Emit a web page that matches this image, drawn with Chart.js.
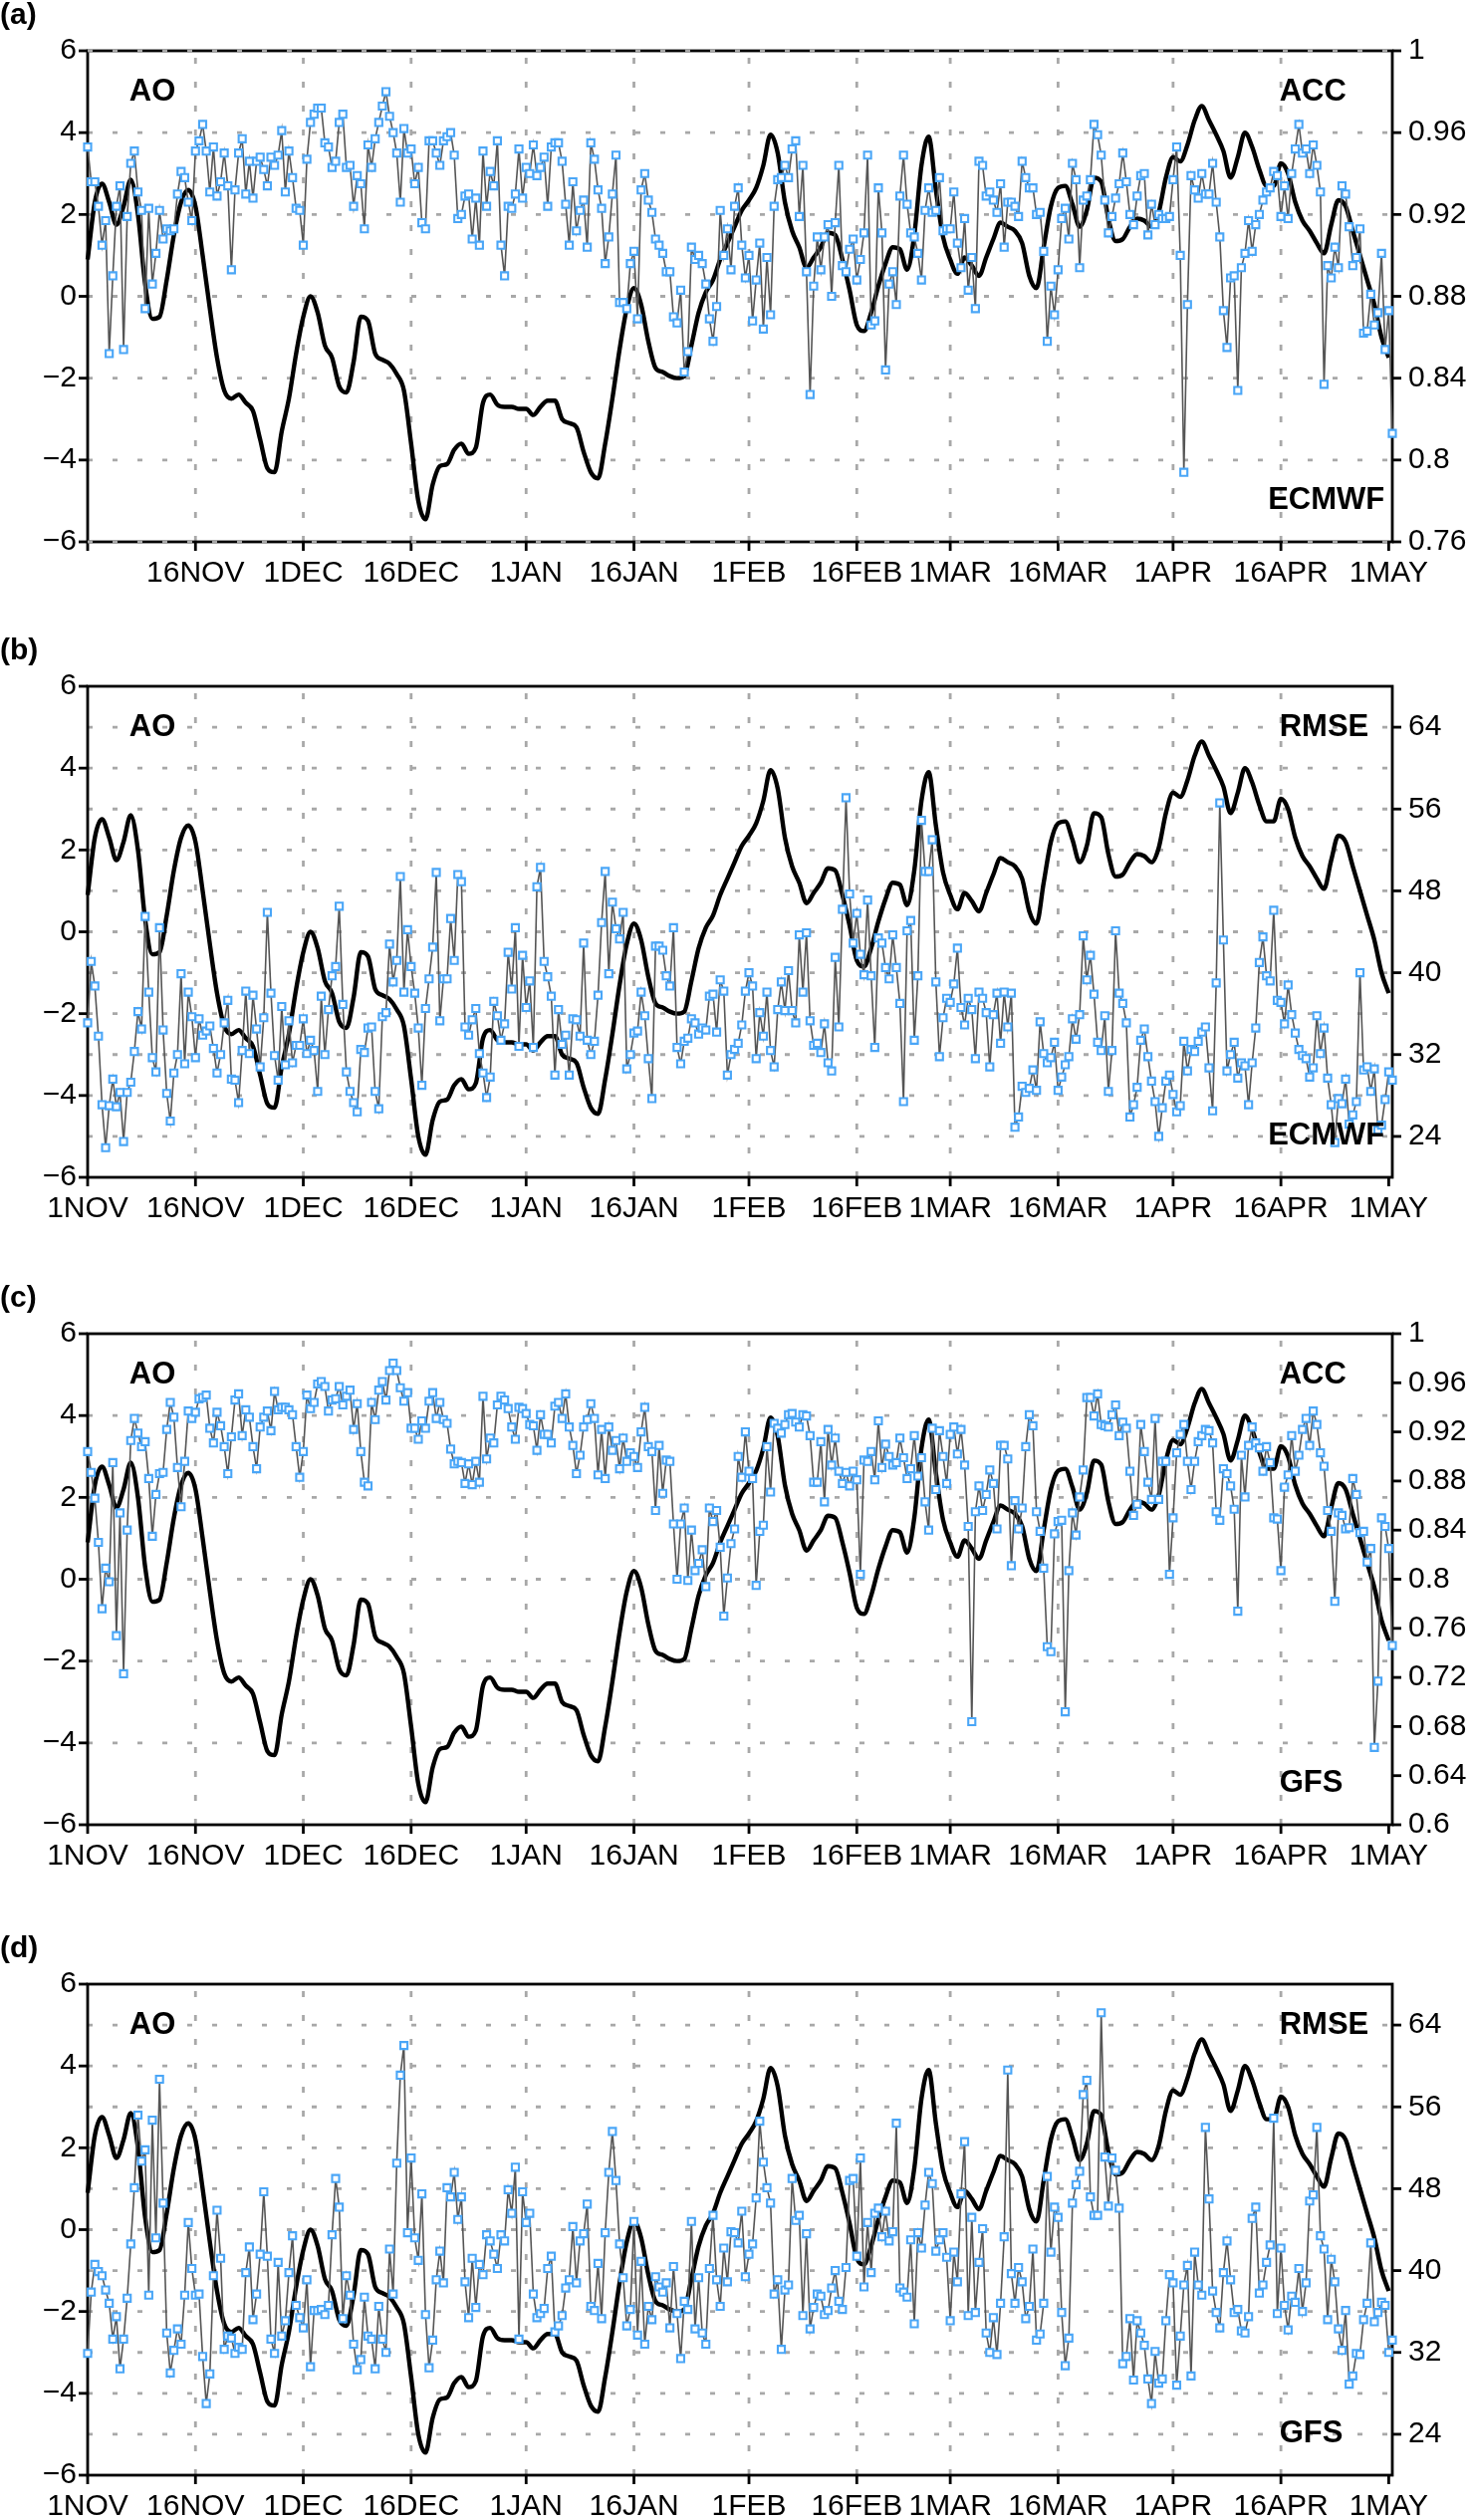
<!DOCTYPE html>
<html>
<head>
<meta charset="utf-8">
<script src="https://cdn.jsdelivr.net/npm/chart.js@4.4.1/dist/chart.umd.min.js"></script>
<style>
html, body { margin: 0; padding: 0; background: #fff; width: 1477px; height: 2530px; overflow: hidden; }
.panel { position: absolute; left: 0; width: 1477px; height: 600px; }
</style>
</head>
<body>
<div class="panel" style="top:0px"><canvas id="panelA" width="1477" height="600"></canvas></div>
<div class="panel" style="top:638px"><canvas id="panelB" width="1477" height="600"></canvas></div>
<div class="panel" style="top:1288px"><canvas id="panelC" width="1477" height="600"></canvas></div>
<div class="panel" style="top:1941px"><canvas id="panelD" width="1477" height="600"></canvas></div>
<script>
// x axis: days since 1 NOV
const dayTicks = [0, 15, 30, 45, 61, 76, 92, 107, 120, 135, 151, 166, 181]
const dayLabels = ['1NOV', '16NOV', '1DEC', '16DEC', '1JAN', '16JAN', '1FEB', '16FEB', '1MAR', '16MAR', '1APR', '16APR', '1MAY']

const aoTicks = [-6, -4, -2, 0, 2, 4, 6]
const accTicksEcmwf = [0.76, 0.8, 0.84, 0.88, 0.92, 0.96, 1]
const accTicksGfs = [0.6, 0.64, 0.68, 0.72, 0.76, 0.8, 0.84, 0.88, 0.92, 0.96, 1]
const rmseTicks = [24, 32, 40, 48, 56, 64]

// daily AO index (one value per day)
const aoIndex = [
  0.9, 2.3, 2.75, 2.3, 1.75, 2.2, 2.85, 2.0, 0.3, -0.55,
  -0.5, 0.4, 1.5, 2.3, 2.6, 2.2, 1.0, -0.3, -1.5, -2.3,
  -2.5, -2.4, -2.6, -2.8, -3.5, -4.2, -4.3, -3.3, -2.5, -1.4,
  -0.5, 0.0, -0.4, -1.2, -1.5, -2.2, -2.35, -1.6, -0.5, -0.6,
  -1.4, -1.55, -1.65, -1.9, -2.3, -3.6, -5.0, -5.45, -4.6, -4.15,
  -4.1, -3.75, -3.6, -3.85, -3.7, -2.6, -2.4, -2.65, -2.7, -2.7,
  -2.75, -2.75, -2.9, -2.7, -2.55, -2.55, -3.0, -3.1, -3.2, -3.8,
  -4.3, -4.45, -3.6, -2.5, -1.3, -0.3, 0.2, -0.2, -1.1, -1.75,
  -1.85, -1.95, -2.0, -1.95, -1.2, -0.4, 0.1, 0.4, 0.9, 1.3,
  1.7, 2.1, 2.35, 2.65, 3.2, 3.95, 3.5, 2.3, 1.6, 1.2,
  0.7, 0.95, 1.2, 1.55, 1.5, 0.9, 0.15, -0.7, -0.85, -0.4,
  0.25, 0.8, 1.2, 1.15, 0.65, 1.5, 3.2, 3.9, 2.6, 1.45,
  0.9, 0.55, 0.95, 0.75, 0.5, 0.95, 1.4, 1.8, 1.7, 1.6,
  1.3, 0.5, 0.2, 1.2, 2.2, 2.65, 2.7, 2.25, 1.7, 2.1,
  2.9, 2.8, 1.9, 1.35, 1.4, 1.7, 1.9, 1.85, 1.7, 2.05,
  2.9, 3.4, 3.3, 3.7, 4.3, 4.65, 4.3, 3.95, 3.55, 2.9,
  3.4, 4.0, 3.65, 3.1, 2.7, 2.7, 3.25, 3.0, 2.3, 1.85,
  1.6, 1.3, 1.05, 1.75, 2.35, 2.2, 1.6, 1.0, 0.4, -0.2,
  -1.0, -1.5
]

// skill scores, two per day (00 and 12 UTC)
const accEcmwf = [
  0.953, 0.936, 0.936, 0.924, 0.905, 0.917, 0.852, 0.890, 0.924, 0.934,
  0.854, 0.919, 0.945, 0.951, 0.931, 0.922, 0.874, 0.923, 0.886, 0.901,
  0.922, 0.908, 0.913, 0.912, 0.913, 0.930, 0.941, 0.938, 0.926, 0.917,
  0.951, 0.956, 0.964, 0.951, 0.931, 0.953, 0.929, 0.936, 0.950, 0.934,
  0.893, 0.932, 0.950, 0.957, 0.930, 0.946, 0.928, 0.946, 0.948, 0.942,
  0.934, 0.948, 0.944, 0.949, 0.961, 0.931, 0.951, 0.938, 0.923, 0.922,
  0.905, 0.947, 0.965, 0.969, 0.972, 0.972, 0.955, 0.953, 0.943, 0.946,
  0.965, 0.969, 0.943, 0.944, 0.924, 0.939, 0.935, 0.913, 0.954, 0.943,
  0.957, 0.965, 0.973, 0.980, 0.968, 0.960, 0.950, 0.926, 0.962, 0.950,
  0.952, 0.935, 0.943, 0.916, 0.913, 0.956, 0.956, 0.950, 0.944, 0.956,
  0.958, 0.960, 0.949, 0.918, 0.920, 0.929, 0.930, 0.908, 0.928, 0.905,
  0.951, 0.924, 0.941, 0.934, 0.956, 0.905, 0.890, 0.924, 0.923, 0.930,
  0.952, 0.928, 0.943, 0.940, 0.954, 0.939, 0.943, 0.948, 0.924, 0.953,
  0.955, 0.955, 0.946, 0.925, 0.905, 0.936, 0.912, 0.922, 0.927, 0.904,
  0.955, 0.947, 0.932, 0.923, 0.896, 0.909, 0.930, 0.949, 0.877, 0.877,
  0.874, 0.896, 0.902, 0.869, 0.932, 0.940, 0.927, 0.921, 0.908, 0.905,
  0.901, 0.892, 0.892, 0.870, 0.867, 0.883, 0.843, 0.853, 0.904, 0.898,
  0.900, 0.896, 0.886, 0.869, 0.858, 0.875, 0.922, 0.900, 0.913, 0.893,
  0.924, 0.933, 0.905, 0.889, 0.900, 0.868, 0.888,
  0.906, 0.864, 0.899, 0.871, 0.924, 0.937, 0.938, 0.944, 0.938, 0.952,
  0.956, 0.919, 0.944, 0.892, 0.832, 0.885, 0.909, 0.893, 0.909, 0.915,
  0.880, 0.916, 0.944, 0.895, 0.892, 0.903, 0.908, 0.888, 0.898, 0.911,
  0.949, 0.866, 0.868, 0.933, 0.911, 0.844, 0.886, 0.892, 0.876, 0.929,
  0.949, 0.925, 0.911, 0.909, 0.901, 0.888, 0.922, 0.933, 0.921, 0.922,
  0.938, 0.912, 0.913, 0.913, 0.931, 0.906, 0.894, 0.918, 0.883, 0.899,
  0.874, 0.946, 0.944, 0.929, 0.931, 0.927, 0.921, 0.935, 0.904, 0.926,
  0.926, 0.924, 0.919, 0.946, 0.938, 0.933, 0.933, 0.920, 0.921, 0.902,
  0.858, 0.885, 0.871, 0.893, 0.918, 0.923, 0.908, 0.945, 0.937, 0.894,
  0.927, 0.929, 0.937, 0.964, 0.959, 0.949, 0.927, 0.911, 0.919, 0.928,
  0.935, 0.950, 0.936, 0.920, 0.915, 0.929, 0.939, 0.940, 0.910, 0.925,
  0.915, 0.920, 0.918, 0.918, 0.919, 0.937, 0.953, 0.900, 0.794, 0.876,
  0.939, 0.932, 0.928, 0.940, 0.930, 0.930, 0.945, 0.926, 0.909, 0.873,
  0.855, 0.889, 0.890, 0.834, 0.894, 0.901, 0.917, 0.902, 0.915, 0.920,
  0.927, 0.931, 0.933, 0.941, 0.939, 0.919, 0.934, 0.918, 0.940, 0.952,
  0.964, 0.950, 0.952, 0.940, 0.954, 0.944, 0.931, 0.837, 0.895, 0.889,
  0.904, 0.894, 0.934, 0.930, 0.914, 0.895, 0.899, 0.913, 0.862, 0.863,
  0.881, 0.866, 0.872, 0.901, 0.854, 0.873, 0.813
]

const rmseEcmwf = [
  35.1, 41.1, 38.7, 33.8, 27.1, 22.9, 27.0, 29.6, 26.9, 28.3,
  23.5, 28.3, 29.3, 32.3, 36.2, 34.5, 45.5, 38.1, 31.7, 30.3,
  44.4, 34.4, 28.2, 25.5, 30.2, 32.0, 39.9, 31.1, 38.1, 35.7,
  31.7, 35.5, 33.9, 34.3, 34.8, 32.6, 30.2, 32.0, 35.1, 37.3,
  29.6, 29.5, 27.3, 32.4, 38.2, 32.1, 37.8, 34.5, 30.8, 35.6,
  45.9, 38.0, 31.9, 29.5, 36.7, 31.0, 35.3, 31.2, 32.9, 32.9,
  35.5, 32.1, 33.4, 32.4, 28.4, 37.7, 32.0, 36.4, 39.7, 40.6,
  46.5, 36.9, 30.3, 28.4, 27.3, 26.4, 32.5, 32.2, 34.6, 34.7,
  28.4, 26.7, 35.7, 36.1, 42.8, 39.1, 41.2, 49.4, 38.1, 44.2,
  40.6, 38.0, 34.6, 29.0, 36.5, 39.4, 42.5, 49.8, 35.3, 39.4,
  39.4, 45.3, 41.2, 49.6, 48.9, 34.7, 33.9, 35.4, 36.5, 32.1,
  30.2, 27.8, 29.8, 37.2, 35.8, 33.4, 35.0, 42.0, 38.4, 44.4,
  32.8, 41.7, 36.6, 39.2, 32.7, 48.4, 50.3, 41.1, 39.6, 37.7,
  30.0, 36.4, 33.0, 33.9, 30.0, 35.5, 35.4, 33.8, 42.9, 33.4,
  32.0, 33.3, 37.8, 44.9, 49.9, 39.9, 46.9, 44.3, 43.3, 45.9,
  30.6, 32.0, 34.1, 34.3, 38.1, 35.8, 31.6, 27.7, 42.6, 42.6,
  42.2, 39.7, 38.7, 44.4, 32.7, 31.1, 33.3, 33.6, 35.5, 35.1,
  34.0, 34.6, 34.4, 37.7, 37.9, 34.2, 39.3, 38.2, 30.0, 32.0,
  32.5, 33.1, 34.9, 38.2, 40.0, 38.7, 31.6,
  36.1, 33.8, 38.1, 32.4, 30.8, 36.4, 39.1, 36.3, 40.2, 36.3,
  35.1, 43.7, 38.1, 43.9, 35.3, 32.9, 33.1, 32.2, 35.0, 31.2,
  30.4, 41.5, 34.7, 46.2, 57.1, 47.7, 42.9, 45.8, 41.8, 39.8,
  47.1, 39.7, 32.7, 43.4, 42.9, 40.5, 39.4, 43.7, 40.5, 37.0,
  27.4, 44.1, 45.1, 33.4, 39.7, 54.9, 49.9, 49.9, 53.0, 39.1,
  31.8, 35.6, 37.5, 37.1, 38.9, 42.4, 36.6, 34.9, 37.5, 36.4,
  31.6, 38.1, 37.5, 36.1, 30.8, 35.9, 38.0, 33.1, 38.1, 34.7,
  38.0, 24.9, 25.9, 28.9, 28.3, 28.7, 30.5, 28.5, 35.2, 32.1,
  31.2, 31.7, 33.2, 28.5, 29.8, 31.0, 31.8, 35.5, 33.5, 35.9,
  43.6, 39.3, 41.7, 37.9, 33.2, 32.4, 35.8, 28.4, 32.4, 44.1,
  38.0, 37.0, 35.1, 25.9, 27.1, 28.8, 33.4, 34.5, 31.8, 29.4,
  27.4, 24.0, 26.8, 29.4, 30.0, 28.1, 26.4, 27.0, 33.3, 30.4,
  32.5, 32.3, 33.3, 34.2, 34.7, 30.7, 26.5, 39.0, 56.6, 43.2,
  30.4, 32.0, 33.2, 29.7, 31.2, 30.9, 27.1, 31.2, 34.6, 41.0,
  43.5, 39.7, 39.2, 46.1, 37.3, 37.1, 35.0, 38.8, 35.9, 34.1,
  32.5, 31.9, 31.6, 29.8, 30.7, 35.8, 32.1, 34.6, 29.7, 27.1,
  23.4, 27.7, 27.2, 29.6, 25.2, 26.1, 27.4, 40.0, 30.5, 30.8,
  28.4, 30.6, 24.6, 25.1, 27.6, 30.3, 29.5
]

const accGfs = [
  0.904, 0.887, 0.866, 0.830, 0.776, 0.809, 0.798, 0.895, 0.754, 0.854,
  0.723, 0.840, 0.913, 0.931, 0.919, 0.908, 0.912, 0.882, 0.835, 0.869,
  0.886, 0.887, 0.922, 0.944, 0.932, 0.891, 0.859, 0.896, 0.937, 0.931,
  0.936, 0.947, 0.948, 0.950, 0.923, 0.911, 0.936, 0.925, 0.908, 0.886,
  0.916, 0.946, 0.951, 0.917, 0.938, 0.932, 0.908, 0.890, 0.924, 0.932,
  0.937, 0.921, 0.953, 0.938, 0.940, 0.940, 0.938, 0.934, 0.908, 0.883,
  0.904, 0.950, 0.939, 0.944, 0.959, 0.961, 0.957, 0.937, 0.946, 0.947,
  0.957, 0.942, 0.949, 0.954, 0.922, 0.943, 0.904, 0.879, 0.876, 0.944,
  0.930, 0.954, 0.961, 0.946, 0.970, 0.976, 0.970, 0.956, 0.945, 0.952,
  0.923, 0.923, 0.914, 0.929, 0.923, 0.945, 0.952, 0.931, 0.944, 0.930,
  0.927, 0.906, 0.894, 0.896, 0.895, 0.878, 0.894, 0.877, 0.896, 0.879,
  0.949, 0.898, 0.915, 0.911, 0.942, 0.949, 0.946, 0.939, 0.924, 0.914,
  0.940, 0.939, 0.935, 0.926, 0.925, 0.905, 0.934, 0.918, 0.918, 0.911,
  0.941, 0.944, 0.931, 0.951, 0.924, 0.909, 0.886, 0.901, 0.924, 0.930,
  0.943, 0.931, 0.885, 0.922, 0.882, 0.924, 0.905, 0.913, 0.890, 0.915,
  0.896, 0.903, 0.900, 0.891, 0.920, 0.940, 0.908, 0.904, 0.856, 0.909,
  0.870, 0.897, 0.896, 0.845, 0.800, 0.845, 0.858, 0.799, 0.840, 0.807,
  0.813, 0.824, 0.794, 0.858, 0.847, 0.856, 0.826, 0.770, 0.801, 0.829,
  0.841, 0.900, 0.883, 0.920, 0.888, 0.882, 0.795,
  0.839, 0.844, 0.908, 0.871, 0.927, 0.923, 0.919, 0.926, 0.934, 0.935,
  0.928, 0.924, 0.934, 0.933, 0.917, 0.879, 0.879, 0.912, 0.863, 0.922,
  0.893, 0.915, 0.888, 0.878, 0.887, 0.876, 0.888, 0.881, 0.804, 0.897,
  0.896, 0.904, 0.881, 0.929, 0.891, 0.910, 0.900, 0.893, 0.895, 0.915,
  0.899, 0.882, 0.890, 0.917, 0.884, 0.899, 0.863, 0.840, 0.923, 0.873,
  0.921, 0.900, 0.878, 0.918, 0.924, 0.902, 0.922, 0.893, 0.843, 0.684,
  0.855, 0.876, 0.856, 0.869, 0.889, 0.878, 0.841, 0.909, 0.909, 0.898,
  0.811, 0.864, 0.841, 0.858, 0.908, 0.934, 0.925, 0.855, 0.839, 0.809,
  0.745, 0.741, 0.837, 0.847, 0.848, 0.692, 0.807, 0.854, 0.836, 0.867,
  0.889, 0.948, 0.948, 0.933, 0.951, 0.926, 0.925, 0.924, 0.934, 0.942,
  0.917, 0.928, 0.923, 0.888, 0.852, 0.861, 0.926, 0.904, 0.879, 0.865,
  0.931, 0.865, 0.896, 0.896, 0.804, 0.850, 0.903, 0.918, 0.926, 0.896,
  0.873, 0.896, 0.912, 0.917, 0.922, 0.921, 0.911, 0.855, 0.848, 0.890,
  0.886, 0.876, 0.857, 0.774, 0.901, 0.867, 0.909, 0.924, 0.911, 0.907,
  0.888, 0.908, 0.895, 0.850, 0.849, 0.807, 0.875, 0.885, 0.917, 0.888,
  0.901, 0.922, 0.931, 0.909, 0.937, 0.926, 0.903, 0.892, 0.856, 0.839,
  0.782, 0.854, 0.852, 0.841, 0.842, 0.882, 0.869, 0.838, 0.839, 0.814,
  0.825, 0.663, 0.717, 0.850, 0.843, 0.825, 0.746
]

const rmseGfs = [
  31.9, 37.9, 40.6, 39.9, 39.5, 38.1, 36.8, 33.3, 35.5, 30.4,
  33.3, 37.3, 42.6, 48.1, 55.2, 50.7, 51.8, 37.6, 54.7, 43.2,
  58.7, 46.6, 33.9, 30.0, 32.2, 34.3, 32.8, 37.6, 44.7, 40.2,
  37.6, 37.7, 31.6, 27.0, 29.9, 39.5, 45.9, 41.2, 32.3, 33.6,
  33.4, 31.9, 32.5, 32.3, 39.8, 42.3, 35.2, 37.7, 41.6, 47.7,
  41.4, 33.3, 31.9, 40.8, 33.6, 35.1, 39.8, 43.4, 36.6, 35.4,
  34.4, 39.1, 30.6, 36.1, 36.1, 36.2, 35.7, 36.6, 43.5, 49.0,
  46.2, 35.3, 39.5, 37.6, 32.8, 30.3, 31.3, 37.4, 33.6, 33.3,
  30.4, 36.5, 33.3, 32.0, 42.1, 37.7, 50.5, 59.1, 62.0, 43.7,
  51.0, 43.2, 41.0, 47.5, 35.7, 30.5, 33.2, 39.1, 41.9, 38.8,
  48.1, 47.2, 49.6, 45.0, 47.2, 38.9, 35.4, 41.2, 36.4, 40.6,
  39.6, 43.5, 42.9, 41.6, 40.2, 43.5, 42.9, 47.9, 45.6, 50.1,
  33.3, 47.7, 44.7, 45.6, 37.7, 35.4, 35.8, 36.3, 40.2, 41.4,
  34.0, 34.6, 35.6, 38.3, 39.1, 44.3, 38.8, 42.9, 43.6, 46.5,
  36.5, 36.1, 40.7, 35.3, 43.7, 49.6, 53.6, 48.8, 42.6, 39.3,
  34.6, 36.2, 44.8, 33.7, 40.9, 32.8, 36.5, 35.2, 39.4, 38.4,
  37.9, 38.8, 34.4, 40.4, 35.8, 31.4, 37.0, 36.2, 44.8, 34.3,
  39.3, 33.9, 32.8, 40.2, 45.4, 39.1, 36.5, 42.2, 38.9, 43.8,
  43.7, 42.7, 45.8, 39.4, 41.6, 42.6, 47.1,
  54.6, 50.6, 48.1, 46.6, 37.7, 39.1, 32.3, 38.1, 38.6, 49.0,
  44.9, 45.4, 35.6, 43.6, 34.3, 36.4, 37.7, 37.5, 35.7, 36.1,
  38.3, 40.0, 37.0, 36.2, 40.3, 48.8, 49.0, 41.4, 51.0, 38.4,
  44.7, 39.8, 45.6, 46.1, 43.3, 45.8, 42.9, 43.8, 54.4, 38.3,
  37.9, 37.4, 43.0, 34.8, 43.7, 42.2, 46.4, 49.6, 48.5, 41.9,
  43.0, 43.7, 41.3, 35.1, 41.8, 38.9, 47.5, 52.6, 35.6, 45.2,
  35.9, 40.8, 44.1, 33.9, 32.0, 35.4, 31.8, 36.8, 43.3, 59.6,
  39.7, 36.8, 40.3, 38.9, 35.3, 36.5, 42.1, 33.2, 33.8, 36.8,
  49.2, 41.8, 46.2, 45.2, 35.9, 30.7, 33.4, 46.6, 48.4, 49.7,
  57.2, 58.6, 47.2, 45.4, 45.4, 65.2, 51.1, 46.3, 51.0, 49.8,
  46.1, 30.9, 31.6, 35.3, 29.3, 35.1, 33.9, 32.7, 29.4, 27.0,
  32.1, 29.0, 29.4, 35.1, 39.6, 38.8, 28.8, 33.6, 38.6, 40.5,
  29.7, 41.8, 38.6, 37.6, 54.0, 47.0, 38.0, 35.9, 34.4, 39.8,
  42.9, 39.1, 35.9, 36.2, 34.1, 33.9, 35.5, 45.1, 46.2, 37.8,
  38.6, 40.8, 42.5, 54.9, 35.8, 42.2, 36.6, 34.2, 37.5, 36.9,
  40.2, 36.0, 38.8, 46.8, 47.4, 54.0, 43.4, 42.1, 35.2, 41.1,
  38.9, 34.3, 32.2, 36.1, 28.9, 29.7, 31.9, 31.8, 35.2, 36.8,
  42.7, 35.0, 35.9, 36.9, 36.6, 32.0, 33.2
]

const FONT = "'Liberation Sans', Arial, Helvetica, sans-serif"
const MARKER = '#4aa6f7'
const GRID = '#a8a8a8'

function minus(v) {
    return v < 0 ? '\u2212' + Math.abs(v) : String(v)
}

function setTicks(values) {
    return (scale) => { scale.ticks = values.map(v => ({ value: v })) }
}

function line(ctx, x1, y1, x2, y2) {
    ctx.beginPath()
    ctx.moveTo(x1, y1)
    ctx.lineTo(x2, y2)
    ctx.stroke()
}

// grid, frame, tick marks and the text labels inside each panel
const panelDecor = {
    id: 'panelDecor',
    beforeDatasetsDraw(chart, args, opts) {
        const ctx = chart.ctx
        const a = chart.chartArea
        const x = chart.scales.x
        const y = chart.scales.y
        const y2 = chart.scales.y2
        ctx.save()

        ctx.strokeStyle = GRID
        ctx.lineWidth = 2.8
        ctx.setLineDash([5, 20])
        opts.hGrid.forEach(v => {
            if (v <= -6 || v >= 6) return
            const py = y.getPixelForValue(v)
            line(ctx, a.left, py, a.right, py)
        })
        ctx.setLineDash([6, 18])
        dayTicks.slice(1, -1).forEach(d => {
            const px = x.getPixelForValue(d)
            line(ctx, px, a.bottom, px, a.top)
        })

        ctx.setLineDash([])
        ctx.strokeStyle = '#000'
        ctx.lineWidth = 2.8
        ctx.strokeRect(a.left, a.top, a.right - a.left, a.bottom - a.top)

        aoTicks.forEach(v => {
            const py = y.getPixelForValue(v)
            line(ctx, a.left - 9, py, a.left, py)
        })
        opts.rightTicks.forEach(v => {
            const py = y2.getPixelForValue(v)
            line(ctx, a.right, py, a.right + 9, py)
        })
        dayTicks.forEach(d => {
            const px = x.getPixelForValue(d)
            line(ctx, px, a.bottom, px, a.bottom + 9)
        })

        // panel (a): dotted grid drawn over the top and bottom border
        if (opts.dottedEdges) {
            ctx.strokeStyle = GRID
            ctx.lineWidth = 2.8
            ctx.setLineDash([5, 20])
            line(ctx, a.left, a.top, a.right, a.top)
            line(ctx, a.left, a.bottom, a.right, a.bottom)
        }
        ctx.restore()
    },
    afterDraw(chart, args, opts) {
        const ctx = chart.ctx
        const x = chart.scales.x
        const y = chart.scales.y
        ctx.save()
        ctx.fillStyle = '#000'
        ctx.textBaseline = 'alphabetic'
        ctx.textAlign = 'left'
        ctx.font = 'bold 30px ' + FONT
        ctx.fillText(opts.tag, 0, 24)

        ctx.font = 'bold 31px ' + FONT
        ctx.textBaseline = 'middle'
        ctx.fillText('AO', x.getPixelForValue(5.8), y.getPixelForValue(5))
        ctx.fillText(opts.score, x.getPixelForValue(165.8), y.getPixelForValue(5))
        ctx.fillText(opts.model, x.getPixelForValue(opts.modelDay), y.getPixelForValue(-5))
        ctx.restore()
    }
}

function makePanel(id, cfg) {
    const skill = cfg.values.map((v, i) => ({ x: i / 2, y: v }))
    const ao = aoIndex.map((v, i) => ({ x: i, y: v }))
    const tickFont = { family: FONT, size: 30 }

    new Chart(document.getElementById(id), {
        type: 'line',
        data: {
            datasets: [
                {
                    label: cfg.score,
                    data: skill,
                    yAxisID: 'y2',
                    borderColor: '#555',
                    borderWidth: 1.6,
                    pointStyle: 'rect',
                    pointRadius: 5,
                    pointBorderWidth: 2.1,
                    pointBorderColor: MARKER,
                    pointBackgroundColor: '#fff',
                    clip: false,
                    order: 0
                },
                {
                    label: 'AO',
                    data: ao,
                    yAxisID: 'y',
                    borderColor: '#000',
                    borderWidth: 4.4,
                    pointRadius: 0,
                    cubicInterpolationMode: 'monotone',
                    clip: false,
                    order: 1
                }
            ]
        },
        options: {
            responsive: false,
            animation: false,
            devicePixelRatio: 1,
            layout: { padding: { top: 51, left: 0, right: 0, bottom: 0 } },
            plugins: {
                legend: { display: false },
                tooltip: { enabled: false },
                panelDecor: {
                    tag: cfg.tag,
                    score: cfg.score,
                    model: cfg.model,
                    modelDay: cfg.modelDay,
                    hGrid: cfg.hGrid,
                    rightTicks: cfg.rightTicks,
                    dottedEdges: cfg.dottedEdges
                }
            },
            scales: {
                x: {
                    type: 'linear',
                    min: 0,
                    max: 181.5,
                    afterBuildTicks: setTicks(dayTicks),
                    afterFit: (s) => { s.height = 56 },
                    grid: { display: false, drawTicks: false },
                    border: { display: false },
                    ticks: {
                        font: tickFont,
                        color: '#000',
                        padding: 14,
                        maxRotation: 0,
                        autoSkip: false,
                        callback: (v, i) => (cfg.hideFirst && i === 0) ? '' : dayLabels[i]
                    }
                },
                y: {
                    position: 'left',
                    min: -6,
                    max: 6,
                    afterBuildTicks: setTicks(aoTicks),
                    afterFit: (s) => { s.width = 88 },
                    grid: { display: false, drawTicks: false },
                    border: { display: false },
                    ticks: { font: tickFont, color: '#000', padding: 11, callback: (v) => minus(v) }
                },
                y2: {
                    position: 'right',
                    min: cfg.rightMin,
                    max: cfg.rightMax,
                    afterBuildTicks: setTicks(cfg.rightTicks),
                    afterFit: (s) => { s.width = 79 },
                    grid: { display: false, drawTicks: false },
                    border: { display: false },
                    ticks: { font: tickFont, color: '#000', padding: 16, callback: (v) => String(parseFloat(v.toFixed(2))) }
                }
            }
        },
        plugins: [panelDecor]
    })
}

makePanel('panelA', {
    tag: '(a)', score: 'ACC', model: 'ECMWF', modelDay: 164.2,
    values: accEcmwf, rightMin: 0.76, rightMax: 1, rightTicks: accTicksEcmwf,
    hGrid: [-6, -4, -2, 0, 2, 4, 6], dottedEdges: true, hideFirst: true
})
makePanel('panelB', {
    tag: '(b)', score: 'RMSE', model: 'ECMWF', modelDay: 164.2,
    values: rmseEcmwf, rightMin: 20, rightMax: 68, rightTicks: rmseTicks,
    hGrid: [-5, -4, -3, -2, -1, 0, 1, 2, 3, 4, 5], dottedEdges: false, hideFirst: false
})
makePanel('panelC', {
    tag: '(c)', score: 'ACC', model: 'GFS', modelDay: 165.8,
    values: accGfs, rightMin: 0.6, rightMax: 1, rightTicks: accTicksGfs,
    hGrid: [-4, -2, 0, 2, 4], dottedEdges: false, hideFirst: false
})
makePanel('panelD', {
    tag: '(d)', score: 'RMSE', model: 'GFS', modelDay: 165.8,
    values: rmseGfs, rightMin: 20, rightMax: 68, rightTicks: rmseTicks,
    hGrid: [-5, -4, -3, -2, -1, 0, 1, 2, 3, 4, 5], dottedEdges: false, hideFirst: false
})
</script>
</body>
</html>
